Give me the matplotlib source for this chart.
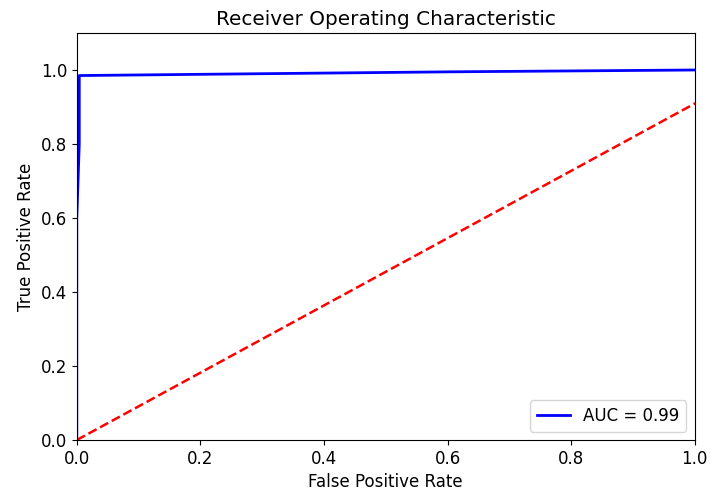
import matplotlib.pyplot as plt

# ROC curve points
fpr = [0.0, 0.0, 0.004, 0.004, 0.3, 0.6, 1.0]
tpr = [0.0, 0.6, 0.8, 0.985, 0.99, 0.995, 1.0]
auc_label = "AUC = 0.99"

# chance line as drawn (it ends below 1.0 at x = 1)
diag_x = [0.0, 1.1]
diag_y = [0.0, 1.0]

x_ticks = [0.0, 0.2, 0.4, 0.6, 0.8, 1.0]
y_ticks = [0.0, 0.2, 0.4, 0.6, 0.8, 1.0]

plt.rcParams['font.size'] = 12

fig = plt.figure(figsize=(7.11, 5), dpi=100)
ax = fig.add_axes([0.108, 0.12, 0.869, 0.814])

ax.plot(fpr, tpr, 'b', linewidth=2, label=auc_label)
ax.plot(diag_x, diag_y, 'r--', linewidth=1.8)

ax.set_xlim(0, 1)
ax.set_ylim(0, 1.1)
ax.set_xticks(x_ticks)
ax.set_yticks(y_ticks)
ax.legend(loc='lower right')

ax.set_title('Receiver Operating Characteristic')
ax.set_xlabel('False Positive Rate')
ax.set_ylabel('True Positive Rate')

fig.savefig('out.png')
